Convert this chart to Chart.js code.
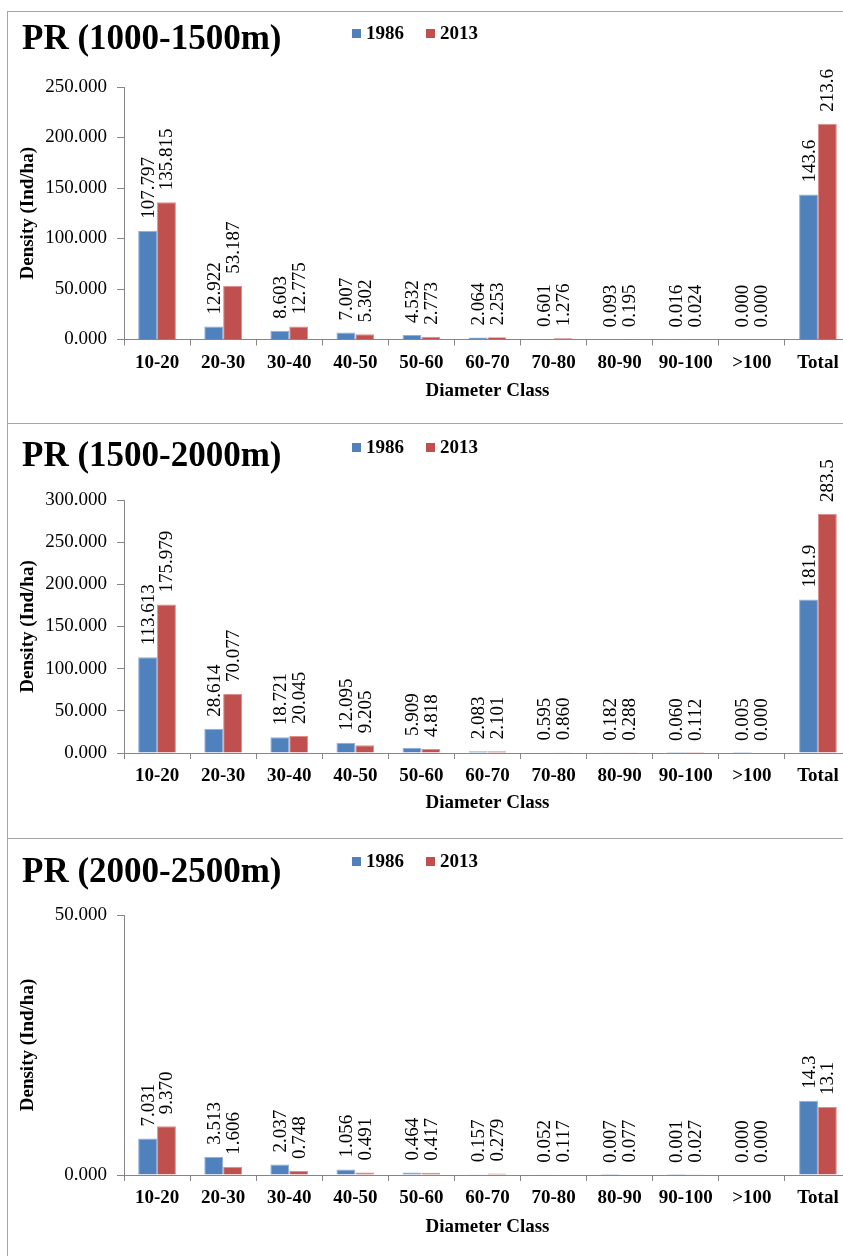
<!DOCTYPE html>
<html>
<head>
<meta charset="utf-8">
<script src="https://cdn.jsdelivr.net/npm/chart.js@4"></script>
<style>
  body { margin: 0; width: 843px; height: 1256px; overflow: hidden; background: #fff; position: relative; }
  .panel { position: absolute; left: 7px; width: 900px; border: 1px solid #a6a6a6; box-sizing: border-box; }
  .wrap { position: absolute; left: 0; width: 860px; }
  .title { position: absolute; left: 22px; font: bold 35px "Liberation Serif", serif; line-height: 1; white-space: nowrap; }
  .legend { position: absolute; left: 352px; font: bold 19px "Liberation Serif", serif; white-space: nowrap; line-height: 1; }
  .legend span.box { display: inline-block; width: 9px; height: 9px; margin-right: 5px; vertical-align: 1px; }
  .legend span.item { margin-right: 22px; }
</style>
</head>
<body>
<script>
// categories and series
const diameterClasses = ['10-20', '20-30', '30-40', '40-50', '50-60', '60-70', '70-80', '80-90', '90-100', '>100', 'Total'];
const years = ['1986', '2013'];

const pr1000_1986 = [107.797, 12.922, 8.603, 7.007, 4.532, 2.064, 0.601, 0.093, 0.016, 0.000, 143.6];
const pr1000_2013 = [135.815, 53.187, 12.775, 5.302, 2.773, 2.253, 1.276, 0.195, 0.024, 0.000, 213.6];

const pr1500_1986 = [113.613, 28.614, 18.721, 12.095, 5.909, 2.083, 0.595, 0.182, 0.060, 0.005, 181.9];
const pr1500_2013 = [175.979, 70.077, 20.045, 9.205, 4.818, 2.101, 0.860, 0.288, 0.112, 0.000, 283.5];

const pr2000_1986 = [7.031, 3.513, 2.037, 1.056, 0.464, 0.157, 0.052, 0.007, 0.001, 0.000, 14.3];
const pr2000_2013 = [9.370, 1.606, 0.748, 0.491, 0.417, 0.279, 0.117, 0.077, 0.027, 0.000, 13.1];

const panelTitles = ['PR (1000-1500m)', 'PR (1500-2000m)', 'PR (2000-2500m)'];
const yMaxes = [250, 300, 50];

const colors = ['#4F81BD', '#C0504D'];
const edgeColors = ['#8eaedb', '#de8e8c'];
const axisColor = '#868686';

// layout of each panel on the page
const panels = [
  { top: 11, height: 412, plotTop: 76, xBox: 83.5, titlePad: 21, titleY: 9, legendY: 12, data: [pr1000_1986, pr1000_2013] },
  { top: 423, height: 415, plotTop: 77, xBox: 85, titlePad: 24, titleY: 14, legendY: 14, data: [pr1500_1986, pr1500_2013] },
  { top: 838, height: 418, plotTop: 77, xBox: 81, titlePad: 18, titleY: 15, legendY: 13, data: [pr2000_1986, pr2000_2013] }
];

// rotated value labels above each bar
const barLabels = {
  id: 'barLabels',
  afterDatasetsDraw(chart) {
    const ctx = chart.ctx;
    ctx.save();
    ctx.font = '19px "Liberation Serif", serif';
    ctx.fillStyle = '#000';
    ctx.textAlign = 'left';
    ctx.textBaseline = 'middle';
    chart.data.datasets.forEach((ds, i) => {
      chart.getDatasetMeta(i).data.forEach((bar, j) => {
        let v = ds.data[j];
        let txt = j === ds.data.length - 1 ? v.toFixed(1) : v.toFixed(3);
        ctx.save();
        ctx.translate(bar.x + 1, bar.y - 12);
        ctx.rotate(-Math.PI / 2);
        ctx.fillText(txt, 0, 0);
        ctx.restore();
      });
    });
    ctx.restore();
  }
};

panels.forEach((p, k) => {
  let panel = document.createElement('div');
  panel.className = 'panel';
  panel.style.top = p.top + 'px';
  panel.style.height = (k === panels.length - 1 ? p.height + 10 : p.height + 1) + 'px';
  document.body.appendChild(panel);

  let wrap = document.createElement('div');
  wrap.className = 'wrap';
  wrap.style.top = p.top + 'px';
  wrap.style.height = p.height + 'px';
  let canvas = document.createElement('canvas');
  wrap.appendChild(canvas);
  document.body.appendChild(wrap);

  let title = document.createElement('div');
  title.className = 'title';
  title.style.top = (p.top + p.titleY) + 'px';
  title.innerText = panelTitles[k];
  document.body.appendChild(title);

  let legend = document.createElement('div');
  legend.className = 'legend';
  legend.style.top = (p.top + p.legendY) + 'px';
  years.forEach((y, i) => {
    legend.innerHTML += '<span class="item"><span class="box" style="background:' + colors[i] + '"></span>' + y + '</span>';
  });
  document.body.appendChild(legend);

  new Chart(canvas, {
    type: 'bar',
    data: {
      labels: diameterClasses,
      datasets: years.map((y, i) => ({
        label: y,
        data: p.data[i],
        backgroundColor: colors[i],
        borderColor: edgeColors[i],
        borderWidth: 1,
        categoryPercentage: 0.571,
        barPercentage: 1
      }))
    },
    options: {
      responsive: true,
      maintainAspectRatio: false,
      animation: false,
      layout: { padding: { top: p.plotTop, right: 9, left: 0, bottom: 0 } },
      plugins: { legend: { display: false }, tooltip: { enabled: false } },
      scales: {
        x: {
          grid: { display: true, drawOnChartArea: false, tickLength: 6, color: axisColor },
          border: { color: axisColor },
          ticks: { color: '#000', padding: 6, autoSkip: false, maxRotation: 0, font: { family: 'Liberation Serif', size: 19, weight: 'bold' } },
          title: { display: true, text: 'Diameter Class', color: '#000', padding: { top: 0, bottom: p.titlePad }, font: { family: 'Liberation Serif', size: 19, weight: 'bold' } },
          afterFit: (s) => { s.height = p.xBox; }
        },
        y: {
          min: 0,
          max: yMaxes[k],
          grid: { display: true, drawOnChartArea: false, tickLength: 7, color: axisColor },
          border: { color: axisColor },
          ticks: { stepSize: 50, color: '#000', padding: 10, font: { family: 'Liberation Serif', size: 19 }, callback: (v) => v.toFixed(3) },
          title: { display: true, text: 'Density (Ind/ha)', color: '#000', padding: { top: 17, bottom: 0 }, font: { family: 'Liberation Serif', size: 19, weight: 'bold' } },
          afterFit: (s) => { s.width = 124; }
        }
      }
    },
    plugins: [barLabels]
  });
});
</script>
</body>
</html>
